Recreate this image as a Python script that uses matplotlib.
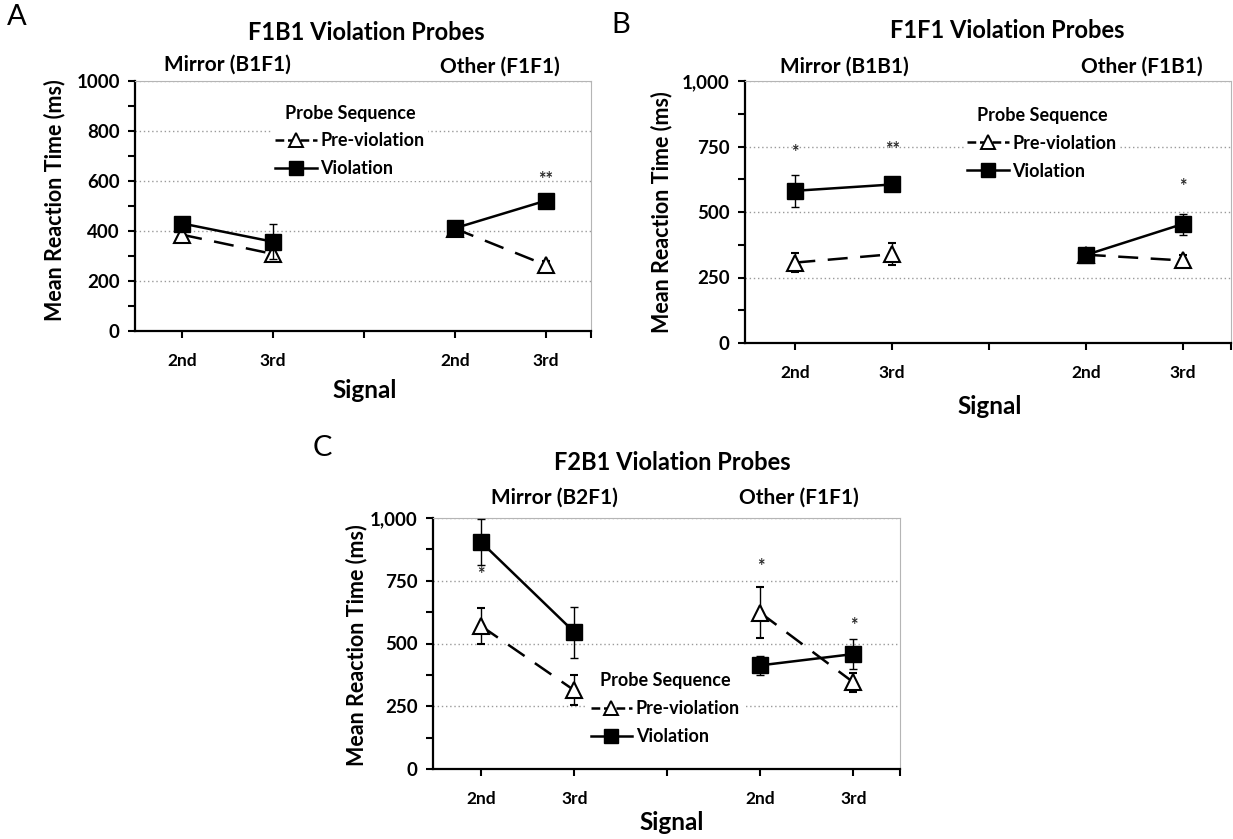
import matplotlib
matplotlib.use('Agg')
import matplotlib.pyplot as plt
from matplotlib.ticker import MultipleLocator, FuncFormatter
from matplotlib.lines import Line2D

plt.rcParams['font.family'] = ['Lato', 'DejaVu Sans']
plt.rcParams['font.weight'] = 'bold'

W, H = 1233, 839

# category positions: 2nd, 3rd | gap | 2nd, 3rd
cat_x = [0, 1, 3, 4]
tick_pos = [0, 1, 2, 3, 4, 4.5]
tick_labels = ['2nd', '3rd', '', '2nd', '3rd', '']

# panel A - F1B1
a_pre = [385, 308, 410, 264]
a_pre_err = [15, 15, 15, 15]
a_vio = [430, 357, 411, 521]
a_vio_err = [15, 70, 22, 15]
a_stars = [(4, 605, '**')]

# panel B - F1F1
b_pre = [307, 339, 337, 315]
b_pre_err = [36, 42, 20, 20]
b_vio = [581, 605, 336, 454]
b_vio_err = [62, 22, 25, 40]
b_stars = [(0, 726, '*'), (1, 739, '**'), (4, 597, '*')]

# panel C - F2B1
c_pre = [569, 313, 622, 345]
c_pre_err = [72, 60, 102, 38]
c_vio = [903, 545, 413, 458]
c_vio_err = [92, 102, 38, 60]
c_stars = [(0, 775, '*'), (3, 808, '*'), (4, 571, '*')]


def px(x, y):
    return x / W, 1 - y / H


def panel(rect, pre, pre_err, vio, vio_err, stars, ymaj, ymin, fmt, leg_xy):
    l, t, r, b = rect
    ax = fig.add_axes([l / W, 1 - b / H, (r - l) / W, (b - t) / H])
    for s in (slice(0, 2), slice(2, 4)):
        ax.errorbar(cat_x[s], pre[s], yerr=pre_err[s], color='black',
                    linestyle=(0, (8, 5)), lw=1.8, marker='^', ms=12,
                    mfc='white', mec='black', mew=1.5, ecolor='black',
                    elinewidth=1, capsize=3, capthick=1, zorder=3)
        ax.errorbar(cat_x[s], vio[s], yerr=vio_err[s], color='black',
                    linestyle='-', lw=1.8, marker='s', ms=11,
                    mfc='black', mec='black', ecolor='black',
                    elinewidth=1, capsize=3, capthick=1, zorder=4)
    for x, y, s in stars:
        ax.text(x, y, s, ha='center', va='center', fontsize=13,
                color='#2a2a2a', zorder=5)
    ax.set_xlim(-0.52, 4.5)
    ax.set_ylim(0, 1000)
    ax.set_xticks(tick_pos)
    ax.set_xticklabels(tick_labels, fontsize=12.5, fontweight='bold')
    ax.yaxis.set_major_locator(MultipleLocator(ymaj))
    ax.yaxis.set_minor_locator(MultipleLocator(ymin))
    ax.yaxis.set_major_formatter(FuncFormatter(fmt))
    for lab in ax.get_yticklabels():
        lab.set_fontsize(13.5)
        lab.set_fontweight('bold')
    ax.tick_params(axis='y', which='both', direction='out', length=5,
                   width=1.5, pad=6)
    ax.tick_params(axis='x', direction='out', length=5, width=1.5, pad=11)
    ax.yaxis.grid(True, linestyle=(0, (1, 2)), color='#9a9a9a', lw=1)
    ax.set_axisbelow(True)
    for sp in ('left', 'bottom'):
        ax.spines[sp].set_linewidth(1.6)
    for sp in ('top', 'right'):
        ax.spines[sp].set_color('#b5b5b5')
        ax.spines[sp].set_linewidth(0.8)
    handles = [
        Line2D([], [], color='black', linestyle=(0, (3.5, 1.5)), lw=1.8,
               marker='^', ms=10, mfc='white', mec='black', mew=1.4),
        Line2D([], [], color='black', linestyle='-', lw=1.8,
               marker='s', ms=10, mfc='black', mec='black'),
    ]
    leg = ax.legend(handles, ['Pre-violation', 'Violation'],
                    title='Probe Sequence', loc='upper left',
                    bbox_to_anchor=leg_xy, frameon=True, fancybox=False,
                    facecolor='white', edgecolor='none', framealpha=1,
                    prop=dict(weight='bold', size=13),
                    title_fontproperties=dict(weight='bold', size=13),
                    handlelength=2.3, borderpad=0.2, labelspacing=0.6,
                    handletextpad=0.2, borderaxespad=0, numpoints=1)
    leg.set_zorder(2.5)
    return ax


fig = plt.figure(figsize=(W / 100, H / 100), dpi=100)

plain = lambda v, p: '%d' % v
comma = lambda v, p: '{:,.0f}'.format(v)

panel((135, 81, 591, 331), a_pre, a_pre_err, a_vio, a_vio_err, a_stars,
      200, 100, plain, (0.30, 0.92))
panel((745, 81, 1231, 343), b_pre, b_pre_err, b_vio, b_vio_err, b_stars,
      250, 125, comma, (0.45, 0.915))
panel((433, 518, 900, 769), c_pre, c_pre_err, c_vio, c_vio_err, c_stars,
      250, 125, comma, (0.33, 0.40))

# panel letters, titles, group labels, axis labels
texts = [
    ('A', 17, 17, 21, 'normal', 0), ('B', 621, 25, 21, 'normal', 0),
    ('C', 322, 448, 21, 'normal', 0),
    ('F1B1 Violation Probes', 366, 33, 17, 'bold', 0),
    ('F1F1 Violation Probes', 1007, 30, 17, 'bold', 0),
    ('F2B1 Violation Probes', 672, 462, 17, 'bold', 0),
    ('Mirror (B1F1)', 227, 65, 15, 'bold', 0),
    ('Other (F1F1)', 500, 67, 15, 'bold', 0),
    ('Mirror (B1B1)', 844, 67, 15, 'bold', 0),
    ('Other (F1B1)', 1142, 67, 15, 'bold', 0),
    ('Mirror (B2F1)', 554, 498, 15, 'bold', 0),
    ('Other (F1F1)', 799, 498, 15, 'bold', 0),
    ('Signal', 365, 390, 17.5, 'bold', 0),
    ('Signal', 990, 406, 17.5, 'bold', 0),
    ('Signal', 672, 822, 17.5, 'bold', 0),
    ('Mean Reaction Time (ms)', 55, 200, 15.5, 'bold', 90),
    ('Mean Reaction Time (ms)', 662, 212, 15.5, 'bold', 90),
    ('Mean Reaction Time (ms)', 357, 645, 15.5, 'bold', 90),
]
for s, x, y, size, w, rot in texts:
    fx, fy = px(x, y)
    fig.text(fx, fy, s, ha='center', va='center', fontsize=size,
             fontweight=w, rotation=rot)

fig.savefig('out.png', dpi=100)
